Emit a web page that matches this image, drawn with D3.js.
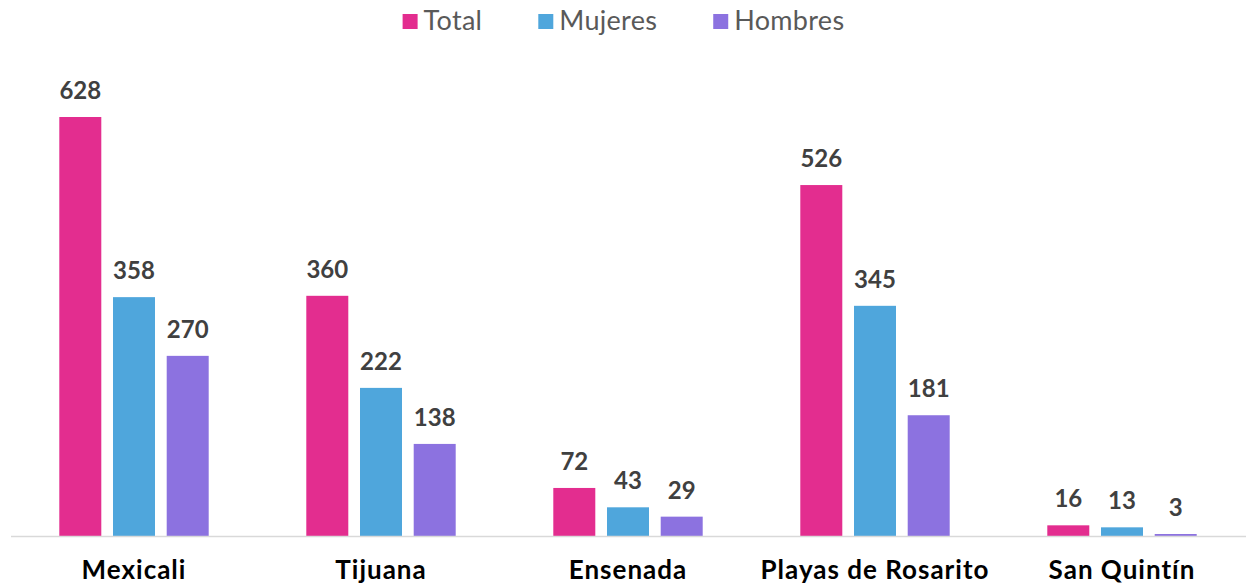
<!DOCTYPE html>
<html>
<head>
<meta charset="utf-8">
<script src="https://cdn.jsdelivr.net/npm/d3@7"></script>
<style>
  html, body { margin: 0; padding: 0; background: #fff; }
  svg { display: block; }
</style>
</head>
<body>
<svg id="chart" width="1247" height="585"></svg>
<script>
// Municipios and counts per group
const categories = ["Mexicali", "Tijuana", "Ensenada", "Playas de Rosarito", "San Quintín"];
const seriesNames = ["Total", "Mujeres", "Hombres"];
const totalValues = [628, 360, 72, 526, 16];
const mujeresValues = [358, 222, 43, 345, 13];
const hombresValues = [270, 138, 29, 181, 3];
const seriesColors = ["#E32D8F", "#4FA6DC", "#8C72E0"];

const valuesBySeries = [totalValues, mujeresValues, hombresValues];
const rows = categories.map((c, i) => ({
  category: c,
  values: seriesNames.map((s, j) => ({ series: s, value: valuesBySeries[j][i] }))
}));

const svg = d3.select("#chart");
const width = 1247, height = 585;
const baseline = 536;

const x0 = d3.scaleBand().domain(categories).range([10.5, 1245.5]).padding(0);
const half = x0.bandwidth() / 2;
const x1 = d3.scaleBand().domain(seriesNames)
  .range([half - 74.7, half + 74.7]).paddingInner(0.218).paddingOuter(0);
const y = d3.scaleLinear().domain([0, 700]).range([baseline, baseline - 700 * (419 / 628)]);
const color = d3.scaleOrdinal().domain(seriesNames).range(seriesColors);

// Bars and value labels
const groups = svg.append("g").selectAll("g")
  .data(rows).join("g")
  .attr("transform", d => `translate(${x0(d.category)},0)`);

groups.selectAll("rect")
  .data(d => d.values).join("rect")
  .attr("x", d => x1(d.series))
  .attr("y", d => y(d.value))
  .attr("width", x1.bandwidth())
  .attr("height", d => baseline - y(d.value))
  .attr("fill", d => color(d.series));

groups.selectAll("text")
  .data(d => d.values).join("text")
  .attr("x", d => x1(d.series) + x1.bandwidth() / 2)
  .attr("y", d => y(d.value) - 18)
  .attr("text-anchor", "middle")
  .attr("font-family", "Lato, 'Open Sans', sans-serif")
  .attr("font-weight", 700)
  .attr("font-size", 24)
  .attr("fill", "#404040")
  .text(d => d.value);

// Category axis
const xAxis = svg.append("g")
  .attr("transform", `translate(0,${baseline})`)
  .call(d3.axisBottom(x0).tickSize(0));
xAxis.select(".domain").attr("stroke", "#D9D9D9").attr("stroke-width", 1.5);
xAxis.selectAll(".tick text")
  .attr("y", 43)
  .attr("dy", 0)
  .attr("font-family", "Lato, 'Open Sans', sans-serif")
  .attr("font-weight", 700)
  .attr("font-size", 26)
  .attr("letter-spacing", 1)
  .attr("fill", "#000");

// Legend, centred across the top
const legend = svg.append("g").attr("class", "legend");
const items = legend.selectAll("g").data(seriesNames).join("g");
items.append("rect")
  .attr("y", 14).attr("width", 15).attr("height", 15)
  .attr("fill", d => color(d));
items.append("text")
  .attr("x", 21).attr("y", 30)
  .attr("font-family", "Lato, 'Open Sans', sans-serif")
  .attr("font-weight", 400)
  .attr("font-size", 27)
  .attr("letter-spacing", 0.3)
  .attr("fill", "#595959")
  .text(d => d);
let offset = 0;
items.each(function () {
  const g = d3.select(this);
  g.attr("transform", `translate(${offset},0)`);
  offset += 21 + g.select("text").node().getComputedTextLength() + 56;
});
const legendWidth = offset - 56;
legend.attr("transform", `translate(${(width - legendWidth) / 2},0)`);
</script>
</body>
</html>
